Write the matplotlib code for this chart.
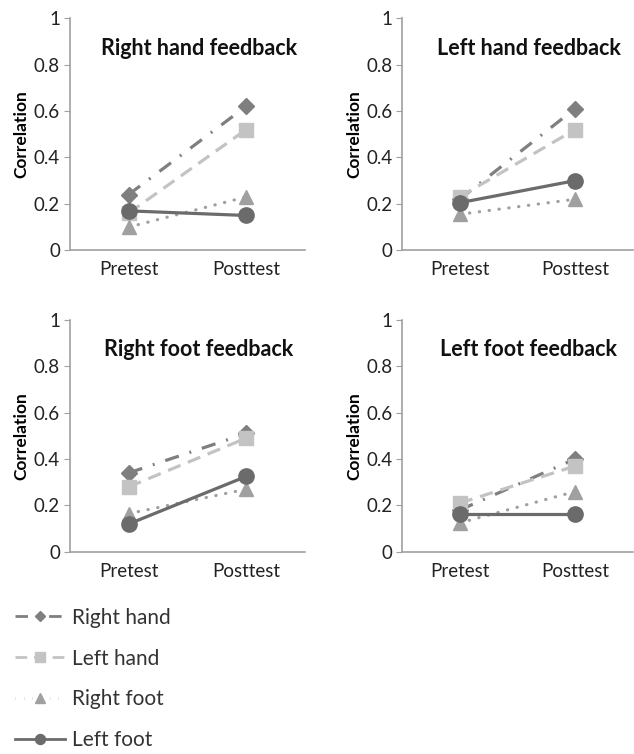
import matplotlib.pyplot as plt
from matplotlib.lines import Line2D

plt.rcParams['font.family'] = ['Lato', 'DejaVu Sans']

phases = ["Pretest", "Posttest"]
panels = ["Right hand feedback", "Left hand feedback",
          "Right foot feedback", "Left foot feedback"]
series = ["Right hand", "Left hand", "Right foot", "Left foot"]

# values per panel: [pretest, posttest] for each series
right_hand = [[0.24, 0.62], [0.22, 0.61], [0.34, 0.51], [0.18, 0.40]]
left_hand = [[0.16, 0.52], [0.23, 0.52], [0.28, 0.49], [0.21, 0.37]]
right_foot = [[0.10, 0.23], [0.155, 0.22], [0.165, 0.27], [0.125, 0.26]]
left_foot = [[0.17, 0.15], [0.205, 0.30], [0.12, 0.325], [0.165, 0.165]]

styles = [
    dict(color="#7f7f7f", ls=(0, (4.5, 3.5, 0.6, 3.5)), marker="D", ms=8.5),
    dict(color="#c3c3c3", ls=(0, (4.2, 2.5)), marker="s", ms=10),
    dict(color="#a0a0a0", ls=(0, (0.1, 3.0)), marker="^", ms=10.5),
    dict(color="#6b6b6b", ls="-", marker="o", ms=11),
]
data = [right_hand, left_hand, right_foot, left_foot]

fig = plt.figure(figsize=(6.34, 7.54), dpi=100)
boxes = [
    (0.110, 0.668, 0.371, 0.308),
    (0.634, 0.668, 0.364, 0.308),
    (0.110, 0.268, 0.371, 0.308),
    (0.634, 0.268, 0.364, 0.308),
]

for p, (title, box) in enumerate(zip(panels, boxes)):
    ax = fig.add_axes(box)
    for s, st in enumerate(styles):
        ax.plot([0.5, 1.5], data[s][p], color=st["color"], linestyle=st["ls"],
                linewidth=2.3, marker=st["marker"], markersize=st["ms"],
                dash_capstyle="round" if s >= 2 else "butt")
    ax.set_xlim(0, 2)
    ax.set_ylim(0, 1)
    ax.set_xticks([0.5, 1.5])
    ax.set_xticklabels(phases, fontsize=13.5, color="#222222")
    ax.set_yticks([0, 0.2, 0.4, 0.6, 0.8, 1])
    ax.set_yticklabels(["0", "0.2", "0.4", "0.6", "0.8", "1"], fontsize=13.5,
                       color="#222222")
    ax.tick_params(axis="x", length=0, pad=8)
    ax.tick_params(axis="y", length=4, color="#a0a0a0", pad=3)
    for side in ("top", "right"):
        ax.spines[side].set_visible(False)
    for side in ("left", "bottom"):
        ax.spines[side].set_color("#a0a0a0")
        ax.spines[side].set_linewidth(1.2)
    ax.set_ylabel("Correlation", fontsize=12.5, fontweight="bold", labelpad=3)
    ax.text(0.55, 0.87, title, transform=ax.transAxes, ha="center",
            va="center", fontsize=15.5, fontweight="bold", color="#111111")

handles = [Line2D([], [], color=st["color"], linestyle=st["ls"], linewidth=2.0,
                  marker=st["marker"], markersize=st["ms"] * 0.65)
           for st in styles]
fig.legend(handles, series, loc="upper left", bbox_to_anchor=(0.023, 0.194),
           frameon=False, fontsize=15, handlelength=2.4, labelspacing=1.0,
           handletextpad=0.35, labelcolor="#333333", borderpad=0,
           borderaxespad=0)

fig.savefig("out.png", dpi=100)
